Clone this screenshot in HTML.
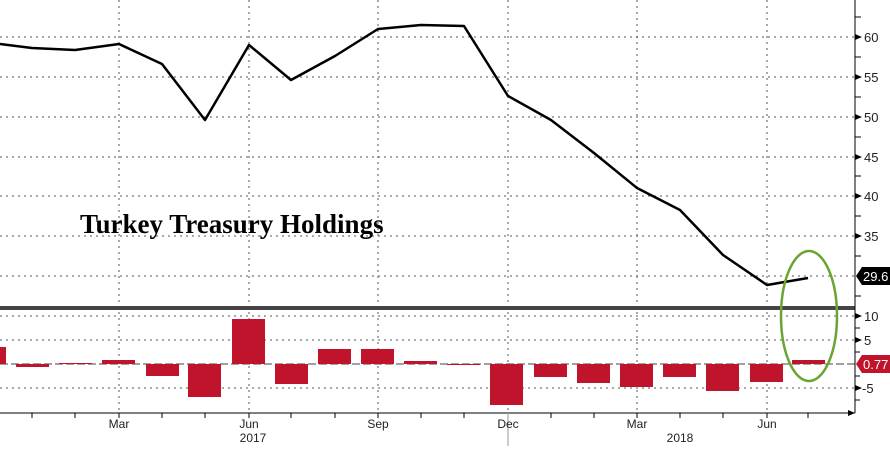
<!DOCTYPE html>
<html><head><meta charset="utf-8"><style>body{margin:0;background:#fff}svg{display:block}</style></head><body>
<svg width="890" height="450" xmlns="http://www.w3.org/2000/svg" font-family="Liberation Sans, sans-serif">
<rect width="890" height="450" fill="#fff"/>
<g stroke="#555" stroke-width="1" stroke-dasharray="2,4">
<line x1="0" y1="37" x2="855" y2="37"/><line x1="0" y1="77" x2="855" y2="77"/><line x1="0" y1="117" x2="855" y2="117"/><line x1="0" y1="157" x2="855" y2="157"/><line x1="0" y1="196" x2="855" y2="196"/><line x1="0" y1="236" x2="855" y2="236"/><line x1="0" y1="276" x2="855" y2="276"/>
<line x1="0" y1="316" x2="855" y2="316"/><line x1="0" y1="340" x2="855" y2="340"/><line x1="0" y1="388" x2="855" y2="388"/>
<line x1="119" y1="0" x2="119" y2="413"/><line x1="249" y1="0" x2="249" y2="413"/><line x1="378" y1="0" x2="378" y2="413"/><line x1="508" y1="0" x2="508" y2="413"/><line x1="637" y1="0" x2="637" y2="413"/><line x1="767" y1="0" x2="767" y2="413"/>
</g>
<line x1="0" y1="364" x2="855" y2="364" stroke="#444" stroke-dasharray="8,3"/>
<g fill="#c0132c">
<rect x="0" y="347" width="6" height="17"/>
<rect x="16" y="364" width="33" height="3"/>
<rect x="59" y="363" width="33" height="1"/>
<rect x="102" y="360" width="33" height="4"/>
<rect x="146" y="364" width="33" height="12"/>
<rect x="188" y="364" width="33" height="33"/>
<rect x="232" y="319" width="33" height="45"/>
<rect x="275" y="364" width="33" height="20"/>
<rect x="318" y="349" width="33" height="15"/>
<rect x="361" y="349" width="33" height="15"/>
<rect x="404" y="361" width="33" height="3"/>
<rect x="447" y="364" width="33" height="1"/>
<rect x="490" y="364" width="33" height="41"/>
<rect x="534" y="364" width="33" height="13"/>
<rect x="577" y="364" width="33" height="19"/>
<rect x="620" y="364" width="33" height="23"/>
<rect x="663" y="364" width="33" height="13"/>
<rect x="706" y="364" width="33" height="27"/>
<rect x="750" y="364" width="33" height="18"/>
<rect x="792" y="360" width="33" height="4"/>
</g>
<polyline fill="none" stroke="#000" stroke-width="2.5" stroke-linejoin="round" points="0,44 32,48 75,50 119,44 162,64 205,120 249,45 291,80 335,56 378,29 421,25 464,26 508,96 551,120 594,153 637,188 680,210 723,255 767,285 808,278"/>
<rect x="0" y="306" width="855" height="4" fill="#444"/>
<line x1="855" y1="0" x2="855" y2="413" stroke="#000"/>
<line x1="0" y1="413" x2="855" y2="413" stroke="#000"/>
<g stroke="#000"><line x1="32" y1="413" x2="32" y2="418"/><line x1="75" y1="413" x2="75" y2="418"/><line x1="119" y1="413" x2="119" y2="418"/><line x1="162" y1="413" x2="162" y2="418"/><line x1="205" y1="413" x2="205" y2="418"/><line x1="249" y1="413" x2="249" y2="418"/><line x1="291" y1="413" x2="291" y2="418"/><line x1="335" y1="413" x2="335" y2="418"/><line x1="378" y1="413" x2="378" y2="418"/><line x1="421" y1="413" x2="421" y2="418"/><line x1="464" y1="413" x2="464" y2="418"/><line x1="551" y1="413" x2="551" y2="418"/><line x1="594" y1="413" x2="594" y2="418"/><line x1="637" y1="413" x2="637" y2="418"/><line x1="680" y1="413" x2="680" y2="418"/><line x1="723" y1="413" x2="723" y2="418"/><line x1="767" y1="413" x2="767" y2="418"/><line x1="808" y1="413" x2="808" y2="418"/></g>
<line x1="508" y1="413" x2="508" y2="446" stroke="#999"/>
<g stroke="#000"><line x1="855" y1="17" x2="861" y2="17"/><line x1="855" y1="57" x2="861" y2="57"/><line x1="855" y1="97" x2="861" y2="97"/><line x1="855" y1="137" x2="861" y2="137"/><line x1="855" y1="176" x2="861" y2="176"/><line x1="855" y1="216" x2="861" y2="216"/><line x1="855" y1="256" x2="861" y2="256"/><line x1="855" y1="296" x2="861" y2="296"/><line x1="855" y1="328" x2="860" y2="328"/><line x1="855" y1="352" x2="860" y2="352"/><line x1="855" y1="376" x2="860" y2="376"/><line x1="855" y1="400" x2="860" y2="400"/></g>
<g fill="#000"><path d="M855,34l7,3l-7,3z"/><path d="M855,74l7,3l-7,3z"/><path d="M855,114l7,3l-7,3z"/><path d="M855,154l7,3l-7,3z"/><path d="M855,193l7,3l-7,3z"/><path d="M855,233l7,3l-7,3z"/><path d="M855,313l7,3l-7,3z"/><path d="M855,337l7,3l-7,3z"/><path d="M855,385l7,3l-7,3z"/><path d="M848,410l7,3l-7,3z"/></g>
<g font-size="13" fill="#222">
<text x="864" y="42">60</text><text x="864" y="82">55</text><text x="864" y="122">50</text><text x="864" y="162">45</text><text x="864" y="201">40</text><text x="864" y="241">35</text>
<text x="864" y="321">10</text><text x="864" y="345">5</text><text x="862" y="393">-5</text>
</g>
<g font-size="12" fill="#222">
<text x="119" y="428" text-anchor="middle">Mar</text><text x="249" y="428" text-anchor="middle">Jun</text><text x="378" y="428" text-anchor="middle">Sep</text><text x="508" y="428" text-anchor="middle">Dec</text><text x="637" y="428" text-anchor="middle">Mar</text><text x="767" y="428" text-anchor="middle">Jun</text>
<text x="253" y="442" text-anchor="middle">2017</text><text x="680" y="442" text-anchor="middle">2018</text>
</g>
<path d="M856,276l6,-9h28v18h-28z" fill="#000"/>
<text x="863" y="281" font-size="13" fill="#fff">29.6</text>
<path d="M856,364l6,-9h28v18h-28z" fill="#c0132c"/>
<text x="863" y="369" font-size="13" fill="#fff">0.77</text>
<ellipse cx="809" cy="316" rx="28" ry="65" fill="none" stroke="#6aa532" stroke-width="2.5"/>
<text x="80" y="233" font-family="Liberation Serif, serif" font-weight="bold" font-size="27" fill="#000">Turkey Treasury Holdings</text>
</svg>
</body></html>
